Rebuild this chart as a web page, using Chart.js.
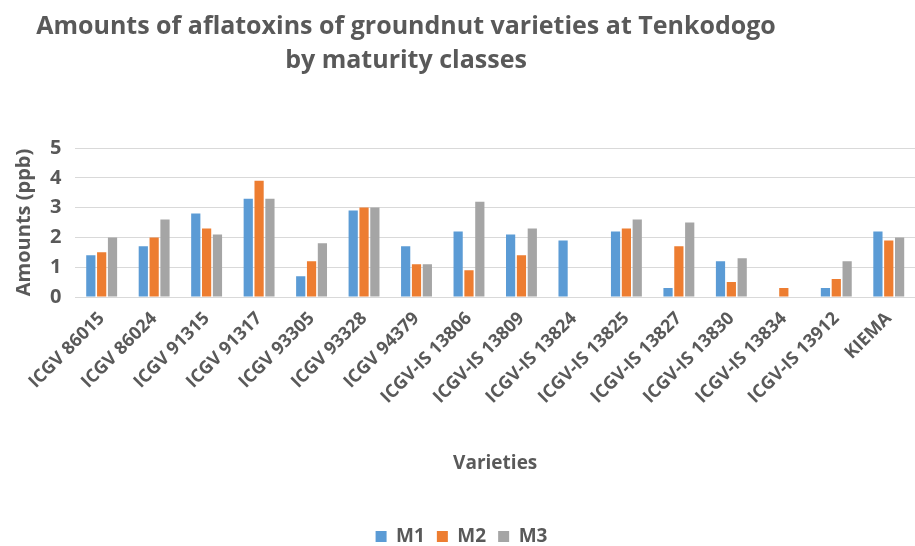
<!DOCTYPE html>
<html>
<head>
    <title>Aflatoxins at Tenkodogo</title>
    <style>
        body {
            margin: 0;
            background: #fff;
        }
    </style>
</head>
<body>
<canvas id="aflaChart" width="915" height="546"></canvas>

<script src="https://cdn.jsdelivr.net/npm/chart.js"></script>

<script>
    const varieties = [
        'ICGV 86015', 'ICGV 86024', 'ICGV 91315', 'ICGV 91317', 'ICGV 93305',
        'ICGV 93328', 'ICGV 94379', 'ICGV-IS 13806', 'ICGV-IS 13809', 'ICGV-IS 13824',
        'ICGV-IS 13825', 'ICGV-IS 13827', 'ICGV-IS 13830', 'ICGV-IS 13834', 'ICGV-IS 13912',
        'KIEMA'
    ];
    const m1 = [1.4, 1.7, 2.8, 3.3, 0.7, 2.9, 1.7, 2.2, 2.1, 1.9, 2.2, 0.3, 1.2, 0, 0.3, 2.2];
    const m2 = [1.5, 2.0, 2.3, 3.9, 1.2, 3.0, 1.1, 0.9, 1.4, 0, 2.3, 1.7, 0.5, 0.3, 0.6, 1.9];
    const m3 = [2.0, 2.6, 2.1, 3.3, 1.8, 3.0, 1.1, 3.2, 2.3, 0, 2.6, 2.5, 1.3, 0, 1.2, 2.0];
    const yTicks = [0, 1, 2, 3, 4, 5];

    const titleLines = [
        'Amounts of aflatoxins of groundnut varieties at Tenkodogo',
        'by maturity classes'
    ];
    const grey = '#595959';
    const fontFamily = "'Open Sans', 'Noto Sans', sans-serif";

    // chart title sits left of centre in the original, so draw it by hand
    const titlePlugin = {
        id: 'leftTitle',
        afterDraw(chart) {
            const c = chart.ctx;
            c.save();
            c.fillStyle = grey;
            c.font = 'bold 25px ' + fontFamily;
            c.textAlign = 'center';
            c.textBaseline = 'middle';
            c.fillText(titleLines[0], 406, 27);
            c.fillText(titleLines[1], 406, 61);
            c.restore();
        }
    };

    const ctx = document.getElementById('aflaChart').getContext('2d');
    new Chart(ctx, {
        type: 'bar',
        data: {
            labels: varieties,
            datasets: [
                { label: 'M1', data: m1, backgroundColor: '#5B9BD5' },
                { label: 'M2', data: m2, backgroundColor: '#ED7D31' },
                { label: 'M3', data: m3, backgroundColor: '#A5A5A5' }
            ]
        },
        options: {
            responsive: false,
            animation: false,
            layout: {
                // negative bottom lets the legend sit close to the edge like the original
                padding: { top: 148, left: 8, right: 0, bottom: -10 }
            },
            datasets: {
                bar: {
                    categoryPercentage: 0.62,
                    barPercentage: 0.85
                }
            },
            plugins: {
                legend: {
                    position: 'bottom',
                    labels: {
                        color: grey,
                        font: { family: fontFamily, size: 19, weight: 'bold' },
                        boxWidth: 11,
                        boxHeight: 11,
                        padding: 12
                    }
                },
                tooltip: { enabled: false }
            },
            scales: {
                x: {
                    grid: { display: false },
                    border: { color: '#d9d9d9' },
                    ticks: {
                        color: grey,
                        font: { family: fontFamily, size: 18, weight: 'bold' },
                        minRotation: 45,
                        maxRotation: 45,
                        autoSkip: false
                    },
                    title: {
                        display: true,
                        text: 'Varieties',
                        color: grey,
                        font: { family: fontFamily, size: 19, weight: 'bold' },
                        padding: { top: 14, bottom: 40 }
                    },
                    afterFit(axis) {
                        axis.height = 218;
                    }
                },
                y: {
                    min: yTicks[0],
                    max: yTicks[yTicks.length - 1],
                    afterBuildTicks(axis) {
                        axis.ticks = yTicks.map(v => ({ value: v }));
                    },
                    grid: { color: '#d9d9d9', drawTicks: false },
                    border: { display: false },
                    ticks: {
                        color: grey,
                        padding: 14,
                        font: { family: fontFamily, size: 20, weight: 'bold' }
                    },
                    title: {
                        display: true,
                        text: 'Amounts (ppb)',
                        color: grey,
                        font: { family: fontFamily, size: 20, weight: 'bold' },
                        padding: { bottom: 0 }
                    }
                }
            }
        },
        plugins: [titlePlugin]
    });
</script>
</body>
</html>
